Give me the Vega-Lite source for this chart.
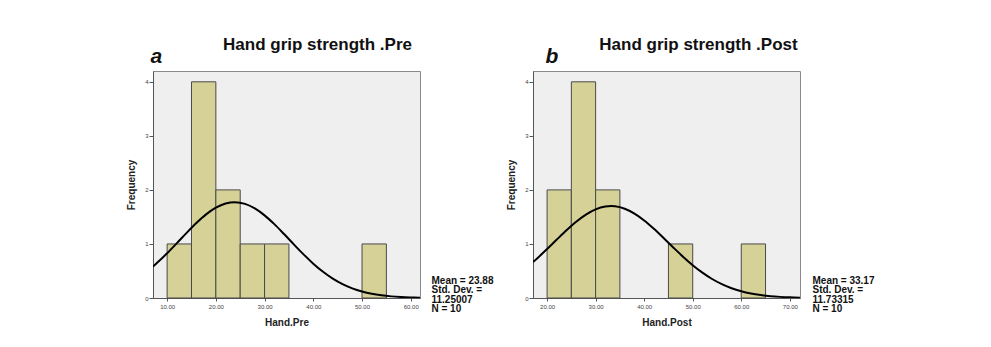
{
  "$schema": "https://vega.github.io/schema/vega-lite/v6.json",
  "background": "white",
  "padding": {"left": 126, "top": 35, "right": 5, "bottom": 5},
  "config": {
    "font": "Liberation Sans",
    "view": {"fill": "#efefef", "stroke": "#8a8a8a", "strokeWidth": 1},
    "axis": {"grid": false}
  },
  "datasets": {
    "pre_bins": [
      {"bin_start": 10, "bin_end": 15, "count": 1},
      {"bin_start": 15, "bin_end": 20, "count": 4},
      {"bin_start": 20, "bin_end": 25, "count": 2},
      {"bin_start": 25, "bin_end": 30, "count": 1},
      {"bin_start": 30, "bin_end": 35, "count": 1},
      {"bin_start": 50, "bin_end": 55, "count": 1}
    ],
    "post_bins": [
      {"bin_start": 20, "bin_end": 25, "count": 2},
      {"bin_start": 25, "bin_end": 30, "count": 4},
      {"bin_start": 30, "bin_end": 35, "count": 2},
      {"bin_start": 45, "bin_end": 50, "count": 1},
      {"bin_start": 60, "bin_end": 65, "count": 1}
    ],
    "pre_curve": [
      {"x": 7.1, "density": 0.583}, {"x": 8, "density": 0.6547}, {"x": 10, "density": 0.8283},
      {"x": 12, "density": 1.0153}, {"x": 14, "density": 1.2057}, {"x": 16, "density": 1.3874},
      {"x": 18, "density": 1.5467}, {"x": 20, "density": 1.6707}, {"x": 22, "density": 1.7485},
      {"x": 23.88, "density": 1.7731}, {"x": 26, "density": 1.7419}, {"x": 28, "density": 1.6581},
      {"x": 30, "density": 1.5292}, {"x": 32, "density": 1.3665}, {"x": 34, "density": 1.183},
      {"x": 36, "density": 0.9924}, {"x": 38, "density": 0.8066}, {"x": 40, "density": 0.6352},
      {"x": 42, "density": 0.4846}, {"x": 44, "density": 0.3582}, {"x": 46, "density": 0.2565},
      {"x": 48, "density": 0.178}, {"x": 50, "density": 0.1197}, {"x": 52, "density": 0.078},
      {"x": 54, "density": 0.0492}, {"x": 56, "density": 0.0301}, {"x": 58, "density": 0.0178},
      {"x": 60, "density": 0.0102}, {"x": 61.9, "density": 0.0059}
    ],
    "post_curve": [
      {"x": 17.1, "density": 0.6655}, {"x": 18, "density": 0.737}, {"x": 20, "density": 0.9055},
      {"x": 22, "density": 1.0807}, {"x": 24, "density": 1.2527}, {"x": 26, "density": 1.4105},
      {"x": 28, "density": 1.5428}, {"x": 30, "density": 1.6392}, {"x": 32, "density": 1.6917},
      {"x": 33.17, "density": 1.7001}, {"x": 34, "density": 1.6959}, {"x": 36, "density": 1.6514},
      {"x": 38, "density": 1.562}, {"x": 40, "density": 1.4351}, {"x": 42, "density": 1.2808},
      {"x": 44, "density": 1.1104}, {"x": 46, "density": 0.9351}, {"x": 48, "density": 0.7649},
      {"x": 50, "density": 0.6077}, {"x": 52, "density": 0.469}, {"x": 54, "density": 0.3516},
      {"x": 56, "density": 0.2561}, {"x": 58, "density": 0.1811}, {"x": 60, "density": 0.1244},
      {"x": 62, "density": 0.0831}, {"x": 64, "density": 0.0539}, {"x": 66, "density": 0.0339},
      {"x": 68, "density": 0.0208}, {"x": 70, "density": 0.0123}, {"x": 72.1, "density": 0.0069}
    ]
  },
  "bounds": "flush",
  "spacing": 113,
  "hconcat": [
    {
      "width": 267,
      "height": 227,
      "title": {"text": "Hand grip strength .Pre", "fontSize": 17, "fontWeight": "bold", "color": "#111", "anchor": "middle", "dx": 31, "offset": -22, "baseline": "alphabetic"},
      "layer": [
        {
          "data": {"name": "pre_bins"},
          "mark": {"type": "bar", "fill": "#d6d196", "stroke": "#4a4a4a", "strokeWidth": 1},
          "encoding": {
            "x": {"field": "bin_start", "type": "quantitative", "scale": {"domain": [7.1, 61.9], "nice": false, "zero": false},
              "axis": {"orient": "bottom", "values": [10, 20, 30, 40, 50, 60], "format": ".2f", "labelFontSize": 6, "labelColor": "#444", "tickSize": 3, "tickColor": "#555", "domainColor": "#555", "labelPadding": 2, "title": "Hand.Pre", "titleFontSize": 10, "titleFontWeight": "bold", "titleColor": "#222", "titlePadding": 8}},
            "x2": {"field": "bin_end"},
            "y": {"field": "count", "type": "quantitative", "scale": {"domain": [0, 4.2], "nice": false},
              "axis": {"orient": "left", "values": [0, 1, 2, 3, 4], "format": "d", "labelFontSize": 6, "labelColor": "#444", "tickSize": 4, "tickColor": "#555", "domainColor": "#555", "labelPadding": 1, "title": "Frequency", "titleFontSize": 10, "titleFontWeight": "bold", "titleColor": "#222", "titlePadding": 8}},
            "y2": {"datum": 0}
          }
        },
        {
          "data": {"name": "pre_curve"},
          "mark": {"type": "line", "color": "black", "strokeWidth": 2, "clip": true, "interpolate": "monotone"},
          "encoding": {
            "x": {"field": "x", "type": "quantitative", "scale": {"domain": [7.1, 61.9], "nice": false, "zero": false},
              "axis": {"orient": "top", "domain": false, "ticks": false, "labels": false, "title": "a", "titleFontSize": 21, "titleFontWeight": "bold", "titleFontStyle": "italic", "titleColor": "#111", "titleAlign": "left", "titleAnchor": "start", "titleBaseline": "alphabetic", "titleX": -3, "titleY": -9}},
            "y": {"field": "density", "type": "quantitative", "scale": {"domain": [0, 4.2], "nice": false},
              "axis": {"orient": "right", "domain": false, "ticks": false, "labels": false, "title": ["Mean = 23.88", "Std. Dev. =", "11.25007", "N = 10"], "titleAngle": 0, "titleAlign": "left", "titleBaseline": "top", "titleFontSize": 10, "titleFontWeight": "bold", "titleColor": "#111", "titleLineHeight": 9.5, "titleX": 11, "titleY": 204}}
          }
        }
      ],
      "resolve": {"axis": {"x": "independent", "y": "independent"}}
    },
    {
      "width": 267,
      "height": 227,
      "title": {"text": "Hand grip strength .Post", "fontSize": 17, "fontWeight": "bold", "color": "#111", "anchor": "middle", "dx": 32, "offset": -22, "baseline": "alphabetic"},
      "layer": [
        {
          "data": {"name": "post_bins"},
          "mark": {"type": "bar", "fill": "#d6d196", "stroke": "#4a4a4a", "strokeWidth": 1},
          "encoding": {
            "x": {"field": "bin_start", "type": "quantitative", "scale": {"domain": [17.1, 72.1], "nice": false, "zero": false},
              "axis": {"orient": "bottom", "values": [20, 30, 40, 50, 60, 70], "format": ".2f", "labelFontSize": 6, "labelColor": "#444", "tickSize": 3, "tickColor": "#555", "domainColor": "#555", "labelPadding": 2, "title": "Hand.Post", "titleFontSize": 10, "titleFontWeight": "bold", "titleColor": "#222", "titlePadding": 8}},
            "x2": {"field": "bin_end"},
            "y": {"field": "count", "type": "quantitative", "scale": {"domain": [0, 4.2], "nice": false},
              "axis": {"orient": "left", "values": [0, 1, 2, 3, 4], "format": "d", "labelFontSize": 6, "labelColor": "#444", "tickSize": 4, "tickColor": "#555", "domainColor": "#555", "labelPadding": 1, "title": "Frequency", "titleFontSize": 10, "titleFontWeight": "bold", "titleColor": "#222", "titlePadding": 8}},
            "y2": {"datum": 0}
          }
        },
        {
          "data": {"name": "post_curve"},
          "mark": {"type": "line", "color": "black", "strokeWidth": 2, "clip": true, "interpolate": "monotone"},
          "encoding": {
            "x": {"field": "x", "type": "quantitative", "scale": {"domain": [17.1, 72.1], "nice": false, "zero": false},
              "axis": {"orient": "top", "domain": false, "ticks": false, "labels": false, "title": "b", "titleFontSize": 21, "titleFontWeight": "bold", "titleFontStyle": "italic", "titleColor": "#111", "titleAlign": "left", "titleAnchor": "start", "titleBaseline": "alphabetic", "titleX": 12, "titleY": -9}},
            "y": {"field": "density", "type": "quantitative", "scale": {"domain": [0, 4.2], "nice": false},
              "axis": {"orient": "right", "domain": false, "ticks": false, "labels": false, "title": ["Mean = 33.17", "Std. Dev. =", "11.73315", "N = 10"], "titleAngle": 0, "titleAlign": "left", "titleBaseline": "top", "titleFontSize": 10, "titleFontWeight": "bold", "titleColor": "#111", "titleLineHeight": 9.5, "titleX": 12, "titleY": 204}}
          }
        }
      ],
      "resolve": {"axis": {"x": "independent", "y": "independent"}}
    }
  ]
}
